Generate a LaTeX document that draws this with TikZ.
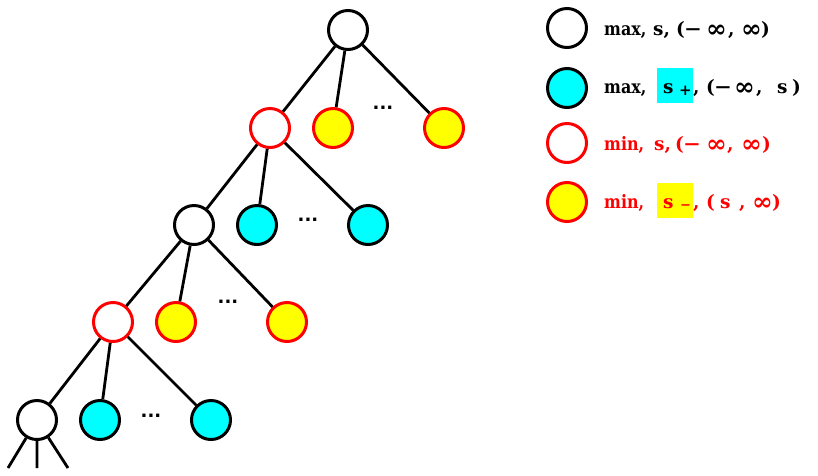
\documentclass[tikz,border=0pt]{standalone}
\usepackage{fontspec}
\setmainfont{DejaVu Serif}
\newfontfamily\dotsfont{DejaVu Sans}
\newcommand{\gl}[2]{\makebox[#1pt][l]{#2}}
\newcommand{\myinf}{\raisebox{-2pt}{\scalebox{1.35}{∞}}}
\newcommand{\mymin}{\scalebox{1.15}[1]{−}}
\newcommand{\sq}[1]{\scalebox{0.86}[1]{#1}}
\begin{document}
\begin{tikzpicture}[x=1pt,y=-1pt,
  nd/.style={circle,draw=black,line width=3pt,minimum size=39pt,inner sep=0pt,fill=white},
  maxw/.style={nd},
  maxc/.style={nd,fill=cyan},
  minw/.style={nd,draw=red},
  miny/.style={nd,draw=red,fill=yellow},
  edge/.style={line width=2.8pt},
  dots/.style={font=\dotsfont\bfseries\fontsize{18}{20}\selectfont,inner sep=0pt},
  lg/.style={font=\bfseries\fontsize{18.5}{20}\selectfont,inner sep=0pt,anchor=base west},
  hb/.style={font=\bfseries\fontsize{18.5}{20}\selectfont,text width=36pt,text height=25pt,text depth=10pt,inner sep=0pt,anchor=base west}
]
\definecolor{cyan}{RGB}{0,255,255}
\definecolor{yellow}{RGB}{255,255,0}
\definecolor{red}{RGB}{255,0,0}
\useasboundingbox (0,0) rectangle (818,475);
% tree
\node[maxw] (r) at (348,30) {};
\node[minw] (a1) at (270,128) {};
\node[miny] (a2) at (333,128) {};
\node[dots] (ad) at (383,108) {...};
\node[miny] (a3) at (444,128) {};
\node[maxw] (b1) at (194,225) {};
\node[maxc] (b2) at (257,225) {};
\node[dots] (bd) at (308,220) {...};
\node[maxc] (b3) at (368,225) {};
\node[minw] (c1) at (113,322) {};
\node[miny] (c2) at (176,322) {};
\node[dots] (cd) at (228,302) {...};
\node[miny] (c3) at (287,322) {};
\node[maxw] (d1) at (37,420) {};
\node[maxc] (d2) at (100,420) {};
\node[dots] (dd) at (151,416) {...};
\node[maxc] (d3) at (211,420) {};
\coordinate (e1) at (8,468);
\coordinate (e2) at (37,468);
\coordinate (e3) at (68,468);
\draw[edge] (r)--(a1) (r)--(a2) (r)--(a3);
\draw[edge] (a1)--(b1) (a1)--(b2) (a1)--(b3);
\draw[edge] (b1)--(c1) (b1)--(c2) (b1)--(c3);
\draw[edge] (c1)--(d1) (c1)--(d2) (c1)--(d3);
\draw[edge] (d1)--(e1) (d1)--(e2) (d1)--(e3);
% legend
\node[maxw] (k1) at (567,28) {};
\node[maxc] (k2) at (567,88) {};
\node[minw] (k3) at (567,143) {};
\node[miny] (k4) at (567,202) {};
\node[lg] (t1) at (604,35) {\gl{49}{\sq{max,}}\gl{23}{s,}\gl{8}{(}\gl{22}{\mymin}\gl{22}{\myinf}\gl{13}{,}\gl{20}{\myinf})};
\node[lg] (t2a) at (604,93) {\sq{max,}};
\node[hb,fill=cyan] (t2b) at (657,93) {\hspace*{6pt}\gl{16}{s}\raisebox{-2pt}{\fontsize{15}{15}\selectfont +}};
\node[lg] (t2c) at (693,93) {\gl{13}{,}\gl{8}{(}\gl{20}{\mymin}\gl{22}{\myinf}\gl{21}{,}\gl{15}{s})};
\node[lg,text=red] (t3) at (604,150) {\gl{50}{\sq{min,}}\gl{21}{s,}\gl{8}{(}\gl{23}{\mymin}\gl{21}{\myinf}\gl{14}{,}\gl{21}{\myinf})};
\node[lg,text=red] (t4a) at (604,208) {\sq{min,}};
\node[hb,fill=yellow,text=red] (t4b) at (657,208) {\hspace*{6pt}\gl{17}{s}\raisebox{-1pt}{\fontsize{13}{13}\selectfont −}};
\node[lg,text=red] (t4c) at (693,208) {\gl{13}{,}\gl{14}{(}\gl{19}{s}\gl{13}{,}\gl{20}{\myinf})};
\end{tikzpicture}
\end{document}
